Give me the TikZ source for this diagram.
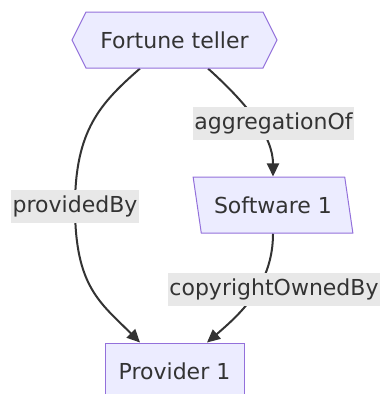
\documentclass[tikz,border=0pt]{standalone}
\usepackage{fontspec}
\setmainfont{DejaVu Sans}
\usetikzlibrary{shapes.geometric,shapes.symbols,arrows.meta,positioning,backgrounds}
\definecolor{nodefill}{HTML}{ECECFF}
\definecolor{nodeline}{HTML}{9370DB}
\definecolor{ink}{HTML}{333333}
\definecolor{labelbg}{HTML}{E8E8E8}

\begin{document}
\begin{tikzpicture}[
    x=1pt, y=-1pt,
    >={Triangle[length=13pt,width=12pt]},
    font=\fontsize{22}{26}\selectfont,
    every node/.style={text=ink},
    box/.style={rectangle, draw=nodeline, fill=nodefill, line width=1pt, minimum width=139pt, minimum height=56pt, inner sep=0pt},
    hexa/.style={signal, signal to=west and east, signal pointer angle=127, draw=nodeline, fill=nodefill, line width=1pt, minimum width=205pt, minimum height=56pt, inner sep=0pt},
    slant/.style={trapezium, trapezium left angle=111.5, trapezium right angle=68.5, trapezium stretches=true, draw=nodeline, fill=nodefill, line width=1pt, minimum width=160pt, minimum height=56pt, inner sep=0pt},
    rel/.style={fill=labelbg, inner xsep=1.5pt, inner ysep=0pt, minimum height=33pt},
    flow/.style={->, draw=ink, line width=2pt}
  ]
    \useasboundingbox (0,0) rectangle (383,394);

    \node[hexa] (ft) at (174.5,40) {Fortune teller};
    \node[slant] (sw) at (273,205) {Software 1};
    \node[box] (prov) at (174.5,371) {Provider 1};

    \node[rel] (pb) at (75,206.5) {providedBy};
    \node[rel] (ag) at (273.5,123) {aggregationOf};
    \node[rel] (co) at (274,289.5) {copyrightOwnedBy};

    \begin{pgfonlayer}{background}
      \draw[flow] ([xshift=-34.5pt]ft.south) .. controls +(-40,35) and +(0,-76) .. (pb.center)
        .. controls +(0,80) and +(-40,-40) .. ([xshift=-34.5pt]prov.north);
      \draw[flow] ([xshift=33.5pt]ft.south) .. controls +(40,36) and +(0,-40) .. (sw.north);
      \draw[flow] (sw.south) .. controls +(0,50) and +(35,-30) .. ([xshift=32.5pt]prov.north);
    \end{pgfonlayer}
  \end{tikzpicture}
\end{document}
